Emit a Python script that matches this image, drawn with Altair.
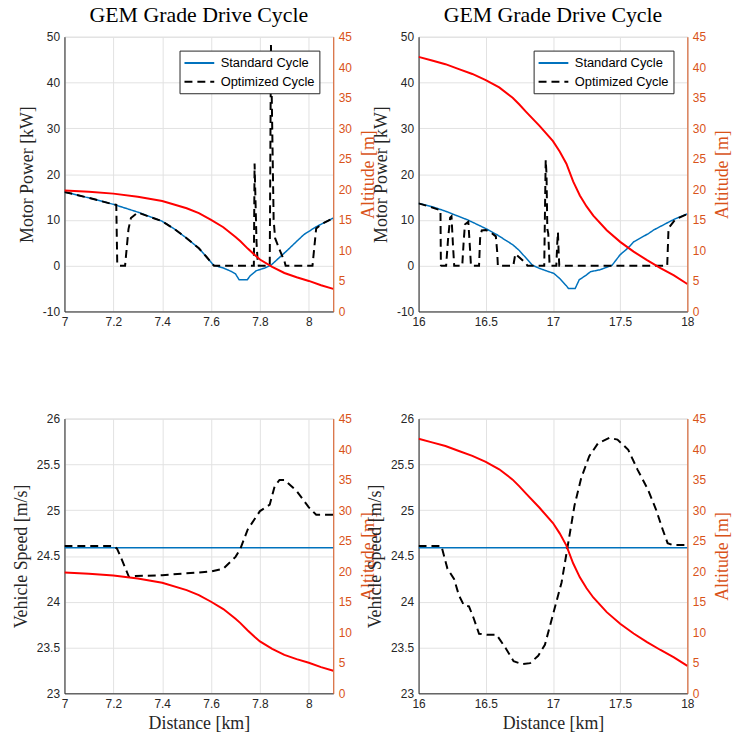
import altair as alt
import pandas as pd

# ---------------- data ----------------
SERIES = ["Standard Cycle", "Optimized Cycle"]

# Left column (7 - 8.1 km)
L_ALT_KM = [7.0, 7.1, 7.2, 7.3, 7.4, 7.5, 7.55, 7.6, 7.65, 7.7, 7.72, 7.75, 7.78, 7.8, 7.85, 7.9, 7.95, 8.0, 8.05, 8.1]
L_ALT_M = [19.8, 19.6, 19.3, 18.8, 18.1, 16.9, 16.1, 15.0, 13.8, 12.2, 11.5, 10.3, 9.2, 8.5, 7.3, 6.3, 5.6, 5.0, 4.3, 3.7]

L_STD_KM = [7.0, 7.1, 7.2, 7.3, 7.4, 7.45, 7.5, 7.55, 7.58, 7.61, 7.65, 7.68, 7.70, 7.715, 7.748, 7.76, 7.785, 7.82, 7.845, 7.88, 7.913, 7.95, 7.98, 8.03, 8.1]
L_STD_KW = [16.1, 14.8, 13.4, 11.7, 9.7, 8.0, 6.0, 3.8, 2.0, 0.1, -0.5, -1.2, -1.8, -3.1, -3.1, -2.2, -1.1, -0.5, 0.1, 1.8, 3.4, 5.3, 6.8, 8.5, 10.4]

L_OPT_KM = [7.0, 7.1, 7.2, 7.212, 7.216, 7.225, 7.248, 7.262, 7.272, 7.30, 7.4, 7.45, 7.5, 7.55, 7.58, 7.61, 7.612,
            7.775, 7.778, 7.786, 7.79, 7.795, 7.84, 7.845, 7.856, 7.862, 7.88, 7.9, 7.905, 8.015, 8.03, 8.05, 8.1]
L_OPT_KW = [16.1, 14.8, 13.4, 13.3, 0.3, 0.0, 0.0, 8.0, 10.4, 11.6, 9.7, 8.0, 6.0, 3.8, 2.0, 0.1, 0.0,
            0.0, 22.3, 5.0, 1.5, 0.0, 0.0, 48.2, 10.0, 6.0, 3.5, 1.0, 0.0, 0.0, 8.1, 9.0, 10.4]

L_SPD_STD_KM = [7.0, 8.1]
L_SPD_STD = [24.59, 24.59]
L_SPD_OPT_KM = [7.0, 7.2, 7.215, 7.23, 7.264, 7.29, 7.4, 7.5, 7.6, 7.65, 7.7, 7.72, 7.75, 7.8, 7.84, 7.86, 7.88, 7.9, 7.95, 8.0, 8.03, 8.1]
L_SPD_OPT = [24.61, 24.61, 24.58, 24.49, 24.27, 24.28, 24.29, 24.31, 24.33, 24.36, 24.49, 24.58, 24.79, 24.99, 25.06, 25.26, 25.33, 25.33, 25.21, 25.03, 24.95, 24.95]

# Right column (16 - 18 km)
R_ALT_KM = [16.0, 16.1, 16.2, 16.3, 16.4, 16.5, 16.6, 16.7, 16.75, 16.8, 16.9, 17.0, 17.05, 17.1, 17.15, 17.2, 17.25,
            17.3, 17.4, 17.5, 17.6, 17.7, 17.8, 17.9, 18.0]
R_ALT_M = [41.7, 41.1, 40.5, 39.7, 38.9, 37.9, 36.7, 35.0, 33.9, 32.7, 30.4, 27.9, 26.2, 24.2, 21.3, 19.0, 17.2,
           15.7, 13.3, 11.4, 9.8, 8.4, 7.1, 5.9, 4.5]

R_STD_KM = [16.0, 16.1, 16.2, 16.365, 16.5, 16.587, 16.65, 16.7, 16.75, 16.847, 16.9, 17.007, 17.05, 17.1, 17.116, 17.165, 17.195,
            17.25, 17.28, 17.35, 17.44, 17.5, 17.56, 17.6, 17.71, 17.75, 17.86, 17.9, 18.0]
R_STD_KW = [13.6, 12.9, 11.9, 10.0, 8.1, 6.7, 5.5, 4.6, 3.3, 0.1, -0.6, -1.7, -2.8, -4.4, -5.0, -5.0, -3.1,
            -2.0, -1.3, -0.9, 0.1, 2.4, 3.9, 5.2, 7.0, 7.8, 9.5, 10.1, 11.3]

R_OPT_KM = [16.0, 16.08, 16.163, 16.166, 16.17, 16.205, 16.22, 16.235, 16.245, 16.255, 16.265, 16.325, 16.335, 16.345, 16.37,
            16.38, 16.39, 16.45, 16.458, 16.47, 16.5, 16.54, 16.575, 16.585, 16.59, 16.705, 16.72, 16.8, 16.81, 16.935,
            16.942, 16.946, 16.952, 16.958, 16.965, 16.975, 17.025, 17.032, 17.037, 17.042, 17.047, 17.85, 17.86, 17.91, 18.0]
R_OPT_KW = [13.6, 12.9, 12.1, 0.1, 0.0, 0.0, 6.0, 10.5, 10.8, 5.0, 0.0, 0.0, 5.0, 9.0, 9.6,
            5.0, 0.0, 0.0, 6.0, 7.7, 7.8, 7.2, 6.4, 3.0, 0.0, 0.0, 2.6, 0.5, 0.0, 0.0,
            15.0, 23.1, 20.0, 8.0, 7.0, 0.0, 0.0, 5.0, 7.3, 3.0, 0.0, 0.0, 8.2, 10.1, 11.3]

R_SPD_STD_KM = [16.0, 18.0]
R_SPD_STD = [24.59, 24.59]
R_SPD_OPT_KM = [16.0, 16.17, 16.215, 16.264, 16.30, 16.338, 16.375, 16.41, 16.45, 16.51, 16.58, 16.645, 16.707, 16.77, 16.83,
                16.89, 16.94, 17.0, 17.064, 17.11, 17.16, 17.21, 17.27, 17.335, 17.42, 17.48, 17.56, 17.63, 17.705, 17.766,
                17.816, 17.853, 17.89, 18.0]
R_SPD_OPT = [24.61, 24.61, 24.36, 24.25, 24.07, 23.96, 23.95, 23.82, 23.65, 23.64, 23.64, 23.50, 23.35, 23.32, 23.33,
             23.41, 23.53, 23.86, 24.21, 24.61, 25.05, 25.35, 25.59, 25.73, 25.79, 25.77, 25.66, 25.44, 25.23, 25.01,
             24.79, 24.64, 24.62, 24.62]

L_XTICKS = [7, 7.2, 7.4, 7.6, 7.8, 8]
R_XTICKS = [16, 16.5, 17, 17.5, 18]
POW_TICKS = [-10, 0, 10, 20, 30, 40, 50]
SPD_TICKS = [23, 23.5, 24, 24.5, 25, 25.5, 26]
ALT_TICKS = [0, 5, 10, 15, 20, 25, 30, 35, 40, 45]

# ---------------- style ----------------
BLUE = "#0072BD"
ORANGE = "#D95319"
RED = "#FF0000"
AXC = "#262626"
GRID = "#E2E2E2"
SERIF = "Liberation Serif"
SANS = "Liberation Sans"
W, H = 271, 277


def df(km, val, name):
    return pd.DataFrame({"km": km, "val": val, "series": name, "i": list(range(len(km)))})


def axis_common(**kw):
    base = dict(labelFont=SANS, labelFontSize=12, labelColor=AXC, titleFont=SERIF, titleFontSize=18,
                titleFontWeight="normal", titleColor=AXC, domainColor=AXC, ticks=False, labelPadding=5,
                gridColor=GRID, labelOverlap=False, labelFlush=False, labelExpr="'' + datum.value")
    base.update(kw)
    return alt.Axis(**base)


def panel(xdom, xticks, ydom, yticks, ytitle, std, opt, alti, title=None, legend=False, xtitle=None):
    x = alt.X("km:Q", scale=alt.Scale(domain=xdom, nice=False, zero=False),
              axis=axis_common(values=xticks, title=xtitle, grid=True, titlePadding=5))
    yl = alt.Y("val:Q", scale=alt.Scale(domain=ydom, nice=False, zero=False),
               axis=axis_common(values=yticks, title=ytitle, grid=True, titlePadding=6))
    if legend:
        leg = alt.Legend(title=None, orient="top-right", offset=14, padding=4, strokeColor=AXC, fillColor="white",
                         labelFont=SANS, labelFontSize=13, labelColor="#000",
                         symbolType="M-2,0H2", symbolSize=225, symbolStrokeWidth=2, symbolOffset=7.5,
                         labelOffset=13, rowPadding=3, cornerRadius=0)
    else:
        leg = None
    color = alt.Color("series:N", scale=alt.Scale(domain=SERIES, range=[BLUE, "#000000"]), legend=leg)
    dash = alt.StrokeDash("series:N", scale=alt.Scale(domain=SERIES, range=[[1, 0], [8, 5]]), legend=leg)
    std_l = alt.Chart(std).mark_line(strokeWidth=1.5, clip=True).encode(
        x=x, y=yl, color=color, strokeDash=dash, order="i:Q")
    opt_l = alt.Chart(opt).mark_line(strokeWidth=2, clip=True).encode(
        x=x, y=yl, color=color, strokeDash=dash, order="i:Q")
    alt_l = alt.Chart(alti).mark_line(strokeWidth=2, color=RED, clip=True).encode(
        x=alt.X("km:Q", scale=alt.Scale(domain=xdom, nice=False, zero=False)),
        y=alt.Y("val:Q", scale=alt.Scale(domain=[0, 45], nice=False, zero=False),
                axis=axis_common(values=ALT_TICKS, title="Altitude [m]", orient="right", grid=False,
                                 labelColor=ORANGE, titleColor=ORANGE, domainColor=ORANGE,
                                 titleAngle=270, titlePadding=26)),
        order="i:Q")
    ch = alt.layer(alt.layer(std_l, opt_l), alt_l).resolve_scale(y="independent").properties(width=W, height=H)
    if title:
        ch = ch.properties(title=alt.TitleParams(title, font=SERIF, fontSize=22, fontWeight="normal",
                                                 color="#000", offset=4, anchor="middle"))
    return ch


tl = panel([7, 8.1], L_XTICKS, [-10, 50], POW_TICKS, "Motor Power [kW]",
           df(L_STD_KM, L_STD_KW, SERIES[0]), df(L_OPT_KM, L_OPT_KW, SERIES[1]),
           df(L_ALT_KM, L_ALT_M, "alt"), title="GEM Grade Drive Cycle", legend=True)
tr = panel([16, 18], R_XTICKS, [-10, 50], POW_TICKS, "Motor Power [kW]",
           df(R_STD_KM, R_STD_KW, SERIES[0]), df(R_OPT_KM, R_OPT_KW, SERIES[1]),
           df(R_ALT_KM, R_ALT_M, "alt"), title="GEM Grade Drive Cycle", legend=True)
bl = panel([7, 8.1], L_XTICKS, [23, 26], SPD_TICKS, "Vehicle Speed [m/s]",
           df(L_SPD_STD_KM, L_SPD_STD, SERIES[0]), df(L_SPD_OPT_KM, L_SPD_OPT, SERIES[1]),
           df(L_ALT_KM, L_ALT_M, "alt"), xtitle="Distance [km]")
br = panel([16, 18], R_XTICKS, [23, 26], SPD_TICKS, "Vehicle Speed [m/s]",
           df(R_SPD_STD_KM, R_SPD_STD, SERIES[0]), df(R_SPD_OPT_KM, R_SPD_OPT, SERIES[1]),
           df(R_ALT_KM, R_ALT_M, "alt"), xtitle="Distance [km]")

chart = alt.concat(tl, tr, bl, br, columns=2, spacing={"row": 108, "column": 86}, bounds="flush").resolve_scale(
    color="independent", strokeDash="independent"
).properties(
    padding={"left": 12, "top": 0, "right": 0, "bottom": 0}
).configure_view(stroke=AXC, strokeWidth=1).configure(background="white")

chart.save("out.html", embed_options={"renderer": "svg", "actions": False})
